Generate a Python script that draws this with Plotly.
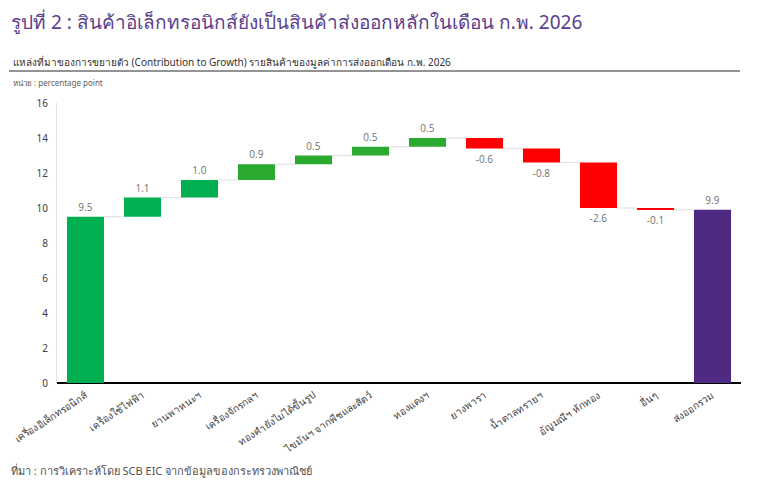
import plotly.graph_objects as go
import numpy as np

categories = ["เครื่องอิเล็กทรอนิกส์", "เครื่องใช้ไฟฟ้า", "ยานพาหนะฯ", "เครื่องจักรกลฯ",
              "ทองคำยังไม่ได้ขึ้นรูป", "ไขมันฯ จากพืชและสัตว์", "ทองแดงฯ", "ยางพารา",
              "น้ำตาลทรายฯ", "อัญมณีฯ หักทอง", "อื่นๆ", "ส่งออกรวม"]
contrib = [9.5, 1.1, 1.0, 0.9, 0.5, 0.5, 0.5, -0.6, -0.8, -2.6, -0.1]
total_label = 9.9
bar_colors = ["#00B050", "#00B050", "#00B050", "#2AAA2E", "#2AAA2E", "#2AAA2E", "#2AAA2E",
              "#FF0000", "#FF0000", "#FF0000", "#FF0000", "#4E2A82"]
y_ticks = [0, 2, 4, 6, 8, 10, 12, 14, 16]

contrib_arr = np.array(contrib)
cum = np.cumsum(contrib_arr)
bases = np.concatenate([[0.0], cum[:-1], [0.0]])
values = np.concatenate([contrib_arr, [cum[-1]]])
texts = [f"{v:.1f}" for v in contrib] + [f"{total_label:.1f}"]
xs = list(range(len(categories)))
W = 0.65

fig = go.Figure()

# connectors
cx, cy = [], []
levels = list(cum)
for i in range(len(categories) - 1):
    cx += [i + W / 2, i + 1 - W / 2, None]
    cy += [levels[i], levels[i], None]
fig.add_trace(go.Scatter(x=cx, y=cy, mode="lines", line=dict(color="#E3E3E3", width=1.2),
                         hoverinfo="skip", showlegend=False))

fig.add_trace(go.Bar(
    x=xs, y=values, base=bases, width=W,
    marker=dict(color=bar_colors, line=dict(width=0)),
    text=texts, textposition="outside", cliponaxis=False,
    textfont=dict(family="Open Sans, Noto Sans, sans-serif", size=10, color="#707070"),
    showlegend=False,
))

OFF = 8  # page body margin
FW, FH = 770 - 2 * OFF, 487 - 2 * OFF
L, R, T, B = 57 - OFF, 741 - OFF, 103 - OFF, 383 - OFF
PW, PH = R - L, B - T
def px(x):
    return (x - OFF - L) / PW
def py(y):
    return (B - (y - OFF)) / PH

fig.update_layout(
    width=FW, height=FH,
    margin=dict(l=L, r=FW - R, t=T, b=FH - B, autoexpand=False),
    plot_bgcolor="white", paper_bgcolor="white",
    font=dict(family="Noto Sans, Open Sans, sans-serif"),
    xaxis=dict(range=[-0.5, len(categories) - 0.5], tickmode="array", tickvals=xs,
               ticktext=categories, tickangle=-33, showgrid=False, zeroline=False,
               showline=False, ticks="", ticklabelstandoff=4,
               tickfont=dict(size=10, color="#404040")),
    yaxis=dict(range=[0, 16], tickvals=y_ticks, showgrid=False, zeroline=True,
               zerolinecolor="#000000", zerolinewidth=1.5, showline=True,
               linecolor="#E0E0E0", linewidth=1, ticks="", ticklabelstandoff=6,
               tickfont=dict(size=10, color="#404040")),
    annotations=[
        dict(text="รูปที่ 2 : สินค้าอิเล็กทรอนิกส์ยังเป็นสินค้าส่งออกหลักในเดือน ก.พ. 2026",
             xref="paper", yref="paper", x=px(9), y=py(22), xanchor="left", yanchor="middle",
             showarrow=False, font=dict(size=19, color="#5B3E8C",
                                        family="Liberation Sans Narrow, Noto Sans, sans-serif")),
        dict(text="แหล่งที่มาของการขยายตัว (Contribution to Growth) รายสินค้าของมูลค่าการส่งออกเดือน ก.พ. 2026",
             xref="paper", yref="paper", x=px(11), y=py(62), xanchor="left", yanchor="middle",
             showarrow=False, font=dict(size=10, color="#303030")),
        dict(text="หน่วย : percentage point",
             xref="paper", yref="paper", x=px(11), y=py(82), xanchor="left", yanchor="middle",
             showarrow=False, font=dict(size=8, color="#606060")),
        dict(text="ที่มา : การวิเคราะห์โดย SCB EIC จากข้อมูลของกระทรวงพาณิชย์",
             xref="paper", yref="paper", x=px(9), y=py(470), xanchor="left", yanchor="middle",
             showarrow=False, font=dict(size=11, color="#505050")),
    ],
    shapes=[
        dict(type="line", xref="paper", yref="paper", x0=px(9), x1=px(740), y0=py(71), y1=py(71),
             line=dict(color="#6F6F6F", width=1.5)),
    ],
)

fig.write_html("out.html")
